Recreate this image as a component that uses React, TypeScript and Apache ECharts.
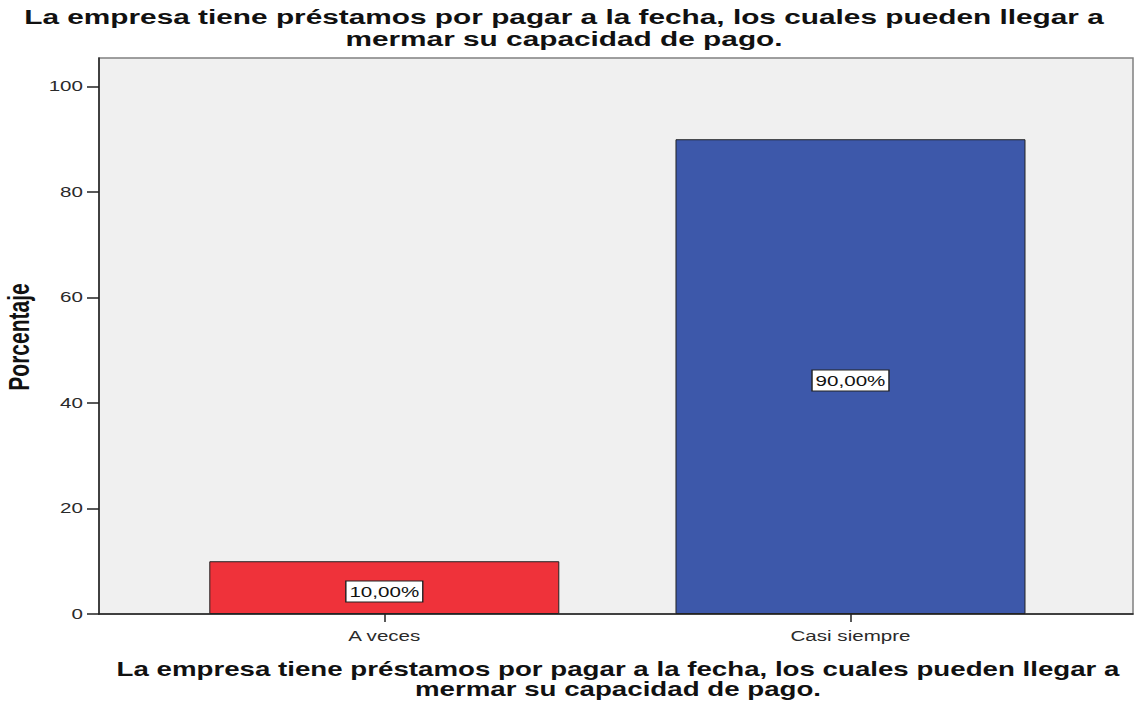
import React, { useEffect, useRef } from "react";
import * as echarts from "echarts";

const categories = ["A veces", "Casi siempre"];
const percentages = [10, 90];
const barColors = ["#EF323A", "#3D58AA"];
const yTicks = [0, 20, 40, 60, 80, 100];
const titleLines = [
  "La empresa tiene préstamos por pagar a la fecha, los cuales pueden llegar a",
  "mermar su capacidad de pago.",
];
const yAxisName = "Porcentaje";

const SX = 1.42;
const FONT = '"Liberation Sans", Arial, sans-serif';

export default function App() {
  const ref = useRef<HTMLDivElement>(null);
  useEffect(() => {
    if (!ref.current) return;
    const chart = echarts.init(ref.current, null, { renderer: "svg" });
    chart.setOption({
      animation: false,
      backgroundColor: "#ffffff",
      grid: {
        left: 99,
        right: 4,
        top: 58,
        bottom: 88,
        show: true,
        backgroundColor: "#F0F0F0",
        borderColor: "#808080",
        borderWidth: 1.5,
      },
      xAxis: {
        type: "value",
        min: -0.612,
        max: 1.606,
        splitLine: { show: false },
        axisLine: { show: true, lineStyle: { color: "#222", width: 1.5 } },
        axisTick: {
          show: true,
          customValues: [0, 1],
          length: 8,
          lineStyle: { color: "#222", width: 1.5 },
        },
        axisLabel: { show: false },
      },
      yAxis: {
        type: "value",
        min: 0,
        max: 105.4,
        splitLine: { show: false },
        axisLine: { show: true, onZero: false, lineStyle: { color: "#222", width: 1.5 } },
        axisTick: {
          show: true,
          customValues: yTicks,
          length: 12,
          lineStyle: { color: "#222", width: 1.5 },
        },
        axisLabel: { show: false },
      },
      series: [
        {
          type: "bar",
          barWidth: 350,
          data: percentages.map((v, i) => ({
            value: [i, v],
            itemStyle: {
              color: barColors[i],
              borderColor: "#222",
              borderWidth: 1,
            },
          })),
          label: { show: false },
        },
      ],
    });

    const px = (x: number, y: number) =>
      chart.convertToPixel({ gridIndex: 0 }, [x, y]) as number[];

    const graphics: any[] = [];
    // Title
    const titleY = [17, 39];
    titleLines.forEach((t, i) => {
      graphics.push({
        type: "text",
        x: 564,
        y: titleY[i],
        scaleX: SX,
        z: 100,
        style: {
          text: t,
          fontFamily: FONT,
          fontWeight: "bold",
          fontSize: 21,
          fill: "#111",
          textAlign: "center",
          textVerticalAlign: "middle",
        },
      });
    });
    // X axis name
    const xNameY = [669, 689];
    titleLines.forEach((t, i) => {
      graphics.push({
        type: "text",
        x: 618,
        y: xNameY[i],
        scaleX: SX,
        z: 100,
        style: {
          text: t,
          fontFamily: FONT,
          fontWeight: "bold",
          fontSize: 19.5,
          fill: "#111",
          textAlign: "center",
          textVerticalAlign: "middle",
        },
      });
    });
    // Y axis name
    graphics.push({
      type: "text",
      x: 19,
      y: 337,
      rotation: Math.PI / 2,
      scaleY: SX,
      z: 100,
      style: {
        text: yAxisName,
        fontFamily: FONT,
        fontWeight: "bold",
        fontSize: 21,
        fill: "#111",
        textAlign: "center",
        textVerticalAlign: "middle",
      },
    });
    // Y tick labels
    yTicks.forEach((v) => {
      const p = px(0, v);
      graphics.push({
        type: "text",
        x: 83,
        y: p[1],
        scaleX: SX,
        z: 100,
        style: {
          text: String(v),
          fontFamily: FONT,
          fontSize: 14.5,
          fill: "#2a2a2a",
          textAlign: "right",
          textVerticalAlign: "middle",
        },
      });
    });
    // X tick labels
    categories.forEach((c, i) => {
      const p = px(i, 0);
      graphics.push({
        type: "text",
        x: p[0],
        y: p[1] + 22,
        scaleX: SX,
        z: 100,
        style: {
          text: c,
          fontFamily: FONT,
          fontSize: 14.5,
          fill: "#2a2a2a",
          textAlign: "center",
          textVerticalAlign: "middle",
        },
      });
    });
    // Data labels
    percentages.forEach((v, i) => {
      const p = px(i, v / 2);
      graphics.push({
        type: "text",
        x: p[0],
        y: p[1] + 4,
        scaleX: SX,
        z: 100,
        style: {
          text: v.toFixed(2).replace(".", ",") + "%",
          fontFamily: FONT,
          fontSize: 14.5,
          fill: "#111",
          textAlign: "center",
          textVerticalAlign: "middle",
          backgroundColor: "#ffffff",
          borderColor: "#222",
          borderWidth: 1,
          padding: [3, 2, 2, 2],
        },
      });
    });
    chart.setOption({ graphic: graphics });
    return () => chart.dispose();
  }, []);
  return <div ref={ref} style={{ width: 1137, height: 702, position: "absolute", left: 0, top: 0 }} />;
}
